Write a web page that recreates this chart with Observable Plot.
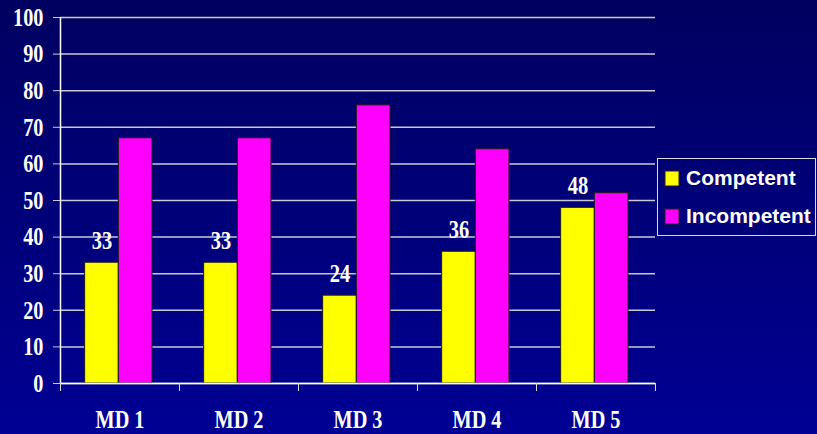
<!DOCTYPE html>
<html><head><meta charset="utf-8">
<script src="https://cdn.jsdelivr.net/npm/d3@7"></script>
<script src="https://cdn.jsdelivr.net/npm/@observablehq/plot@0.6"></script>
<style>
html,body{margin:0;padding:0;background:#000070;}
#wrap{position:relative;width:817px;height:434px;background:linear-gradient(to bottom,#000060,#000094);overflow:hidden;}
#chart svg{position:absolute;left:0;top:0;background:none;}
#legend{position:absolute;left:657px;top:158px;width:159px;height:78px;border:1px solid #d8d8e0;box-sizing:border-box;padding:0;}
#legend > div{margin:0 !important;columns:auto !important;}
#legend .lg-swatch{display:flex !important;align-items:center;height:38px;padding:0 0 0 7px !important;margin:0 !important;}
#legend svg{stroke:#222;stroke-width:1px;margin-right:7px !important;overflow:visible;}
</style>
</head><body>
<div id="wrap"><div id="chart"></div><div id="legend"></div></div>
<script>
const categories = ["MD 1", "MD 2", "MD 3", "MD 4", "MD 5"];
const series = ["Competent", "Incompetent"];
const competent = [33, 33, 24, 36, 48];
const incompetent = [67, 67, 76, 64, 52];
const yTicks = [0, 10, 20, 30, 40, 50, 60, 70, 80, 90, 100];
const seriesColors = ["#ffff00", "#ff00ff"];

const W = 0.283; // bar width in category units
const C = 0.49;  // group centre within a category
const rows = categories.flatMap((c, i) => [
  {cat: c, i, series: series[0], value: competent[i]},
  {cat: c, i, series: series[1], value: incompetent[i]}
]);
const left = d => d.series === series[0] ? d.i + C - W : d.i + C;

const serif = "'Liberation Serif','Times New Roman',serif";
const plot = Plot.plot({
  width: 817,
  height: 434,
  marginLeft: 60,
  marginRight: 162,
  marginTop: 17,
  marginBottom: 51,
  style: {background: "none", color: "white", fontFamily: serif},
  x: {type: "linear", domain: [0, categories.length], axis: null},
  y: {domain: [0, 100], axis: null},
  color: {type: "ordinal", domain: series, range: seriesColors},
  marks: [
    Plot.ruleY(yTicks, {stroke: "#c8c8d8", strokeWidth: 1.5}),
    Plot.axisY(yTicks, {tickSize: 7, tickPadding: 10, stroke: "#c8c8d8", fontSize: 26, fontWeight: "bold", fill: "white", label: null}),
    Plot.rect(rows, {x1: left, x2: d => left(d) + W, y1: 0, y2: "value", fill: "series", stroke: "#1a1a1a", strokeWidth: 1}),
    Plot.ruleX([0], {stroke: "white", strokeWidth: 1.5}),
    Plot.ruleY([0], {stroke: "white", strokeWidth: 1.5}),
    Plot.axisX(d3.range(categories.length + 1), {tickSize: 8, tickFormat: () => "", stroke: "#d8d8e0", label: null}),
    Plot.axisX(d3.range(categories.length).map(i => i + 0.5), {tickSize: 0, tickPadding: 26, tickFormat: v => categories[Math.floor(v)], fontSize: 26, fontWeight: "bold", fill: "white", label: null}),
    Plot.text(rows.filter(d => d.series === series[0]), {x: d => d.i + C - W / 2, y: "value", text: d => String(d.value), dy: -14, lineAnchor: "bottom", fill: "white", fontSize: 25, fontWeight: "bold"})
  ]
});

// horizontally condense the serif labels like the original slide
d3.select(plot).selectAll("g").each(function() {
  const g = d3.select(this);
  const aria = g.attr("aria-label") || "";
  if (aria === "text" || aria.includes("tick label")) {
    const s = aria === "text" ? 0.82 : 0.78;
    g.selectAll("text").each(function() {
      const t = d3.select(this);
      const tr = t.attr("transform");
      if (tr) {
        if (!tr.includes("scale")) t.attr("transform", tr + ` scale(${s},1)`);
      } else {
        const x = +t.attr("x") || 0, y = +t.attr("y") || 0;
        t.attr("x", null).attr("y", null).attr("transform", `translate(${x},${y}) scale(${s},1)`);
      }
    });
  }
});
document.getElementById("chart").append(plot);

const legend = plot.legend("color", {
  columns: 1,
  swatchWidth: 14,
  swatchHeight: 15,
  className: "lg",
  style: {background: "none", color: "white", fontFamily: "'Liberation Sans',Arial,sans-serif", fontSize: "21px", fontWeight: "bold"}
});
document.getElementById("legend").append(legend);
</script>
</body></html>
